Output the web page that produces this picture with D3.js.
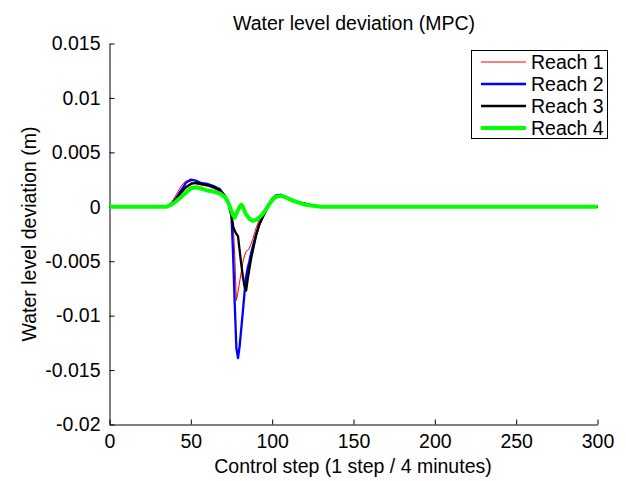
<!DOCTYPE html>
<html><head><meta charset="utf-8">
<script src="https://cdn.jsdelivr.net/npm/d3@7"></script>
<style>body{margin:0;background:#fff}svg{display:block}text{font-family:"Liberation Sans",Arial,sans-serif}</style>
</head><body>
<svg id="c" width="626" height="481"></svg>
<script>
const steps = [0,35,38,41,44,47,50,53,56,60,64,68,71,73,74,75,76,77,78,79,80,81,82,83,84,85,86,87,88,90,92,94,96,98,100,102,105,108,112,116,120,125,130,135,300];
const reach1 = [0,0,0.0004,0.0011,0.0019,0.0024,0.0023,0.0021,0.0020,0.0019,0.0017,0.0014,0.0009,0.0004,-0.0002,-0.0010,-0.0014,-0.0045,-0.0086,-0.0078,-0.0069,-0.0060,-0.0051,-0.0045,-0.0041,-0.0040,-0.0038,-0.0034,-0.0030,-0.0020,-0.0012,-0.0007,-0.0002,0.0003,0.0007,0.0010,0.0011,0.0009,0.0006,0.0004,0.0003,0.0001,0,0,0];
const reach2 = [0,0,0.0002,0.0008,0.0015,0.0022,0.0025,0.0024,0.0022,0.0021,0.0019,0.0016,0.0010,0.0004,-0.0002,-0.0008,-0.0045,-0.0090,-0.0130,-0.0139,-0.0128,-0.0112,-0.0096,-0.0079,-0.0064,-0.0056,-0.0050,-0.0043,-0.0037,-0.0026,-0.0016,-0.0010,-0.0004,0.0002,0.0007,0.0010,0.0011,0.0009,0.0006,0.0004,0.0003,0.0001,0,0,0];
const reach3 = [0,0,0.0002,0.0007,0.0013,0.0018,0.0021,0.0022,0.0021,0.0020,0.0018,0.0015,0.0010,0.0004,-0.0002,-0.0008,-0.0018,-0.0022,-0.0025,-0.0027,-0.0040,-0.0053,-0.0064,-0.0073,-0.0077,-0.0066,-0.0057,-0.0048,-0.0041,-0.0027,-0.0017,-0.0010,-0.0004,0.0002,0.0007,0.0010,0.0011,0.0009,0.0006,0.0004,0.0003,0.0001,0,0,0];
const reach4 = [0,0,0.0002,0.0005,0.0009,0.0013,0.0017,0.0018,0.0017,0.0015,0.0014,0.0012,0.0009,0.0004,0.0000,-0.0004,-0.0008,-0.0010,-0.0006,-0.0003,0.0000,0.0002,0.0000,-0.0004,-0.0007,-0.0009,-0.0011,-0.0012,-0.0013,-0.0012,-0.0010,-0.0007,-0.0003,0.0002,0.0006,0.0009,0.0010,0.0009,0.0006,0.0004,0.0002,0.0001,0,0,0];
const seriesNames = ["Reach 1","Reach 2","Reach 3","Reach 4"];
const seriesColors = ["#ff0000","#0000ff","#000000","#00ff00"];
const seriesWidths = [1,2.3,2.3,4];
const seriesValues = [reach1,reach2,reach3,reach4];
const xTicks = [0,50,100,150,200,250,300];
const yTicks = [-0.02,-0.015,-0.01,-0.005,0,0.005,0.01,0.015];

const svg = d3.select("#c");
const L=109.5, R=597.5, T=43.5, B=424.5;
const FS = 19.5;
const x = d3.scaleLinear().domain([0,300]).range([L,R]);
const y = d3.scaleLinear().domain([-0.02,0.015]).range([B,T]);

const fmt = v => v===0 ? "0" : (v<0?"-":"") + String(Math.abs(+v.toFixed(3)));

const gx = svg.append("g").attr("transform",`translate(0,${B})`)
  .call(d3.axisBottom(x).tickValues(xTicks).tickSizeInner(-5).tickSizeOuter(0).tickPadding(8).tickFormat(d3.format("d")));
const gy = svg.append("g").attr("transform",`translate(${L},0)`)
  .call(d3.axisLeft(y).tickValues(yTicks).tickSizeInner(-5).tickSizeOuter(0).tickPadding(9).tickFormat(fmt));
[gx,gy].forEach(g=>{
  g.selectAll("text").attr("font-size",FS).attr("fill","#000").attr("font-family","Liberation Sans, Arial, sans-serif");
  g.selectAll("line").attr("stroke","#000");
  g.select(".domain").attr("stroke","#000").attr("stroke-width",1);
});
gx.selectAll("text").attr("y",23).attr("dy","0");

const line = d3.line().x((d,i)=>x(steps[i])).y(d=>y(d));
seriesValues.forEach((vals,k)=>{
  svg.append("path").datum(vals).attr("d",line).attr("fill","none")
    .attr("stroke",seriesColors[k]).attr("stroke-width",seriesWidths[k]).attr("stroke-linejoin","round");
});

svg.append("text").attr("x",354).attr("y",30).attr("text-anchor","middle").attr("font-size",FS).text("Water level deviation (MPC)");
svg.append("text").attr("x",353).attr("y",473).attr("text-anchor","middle").attr("font-size",FS).text("Control step (1 step / 4 minutes)");
svg.append("text").attr("transform","translate(36,234) rotate(-90)").attr("text-anchor","middle").attr("font-size",FS).text("Water level deviation (m)");

const lg = svg.append("g");
lg.append("rect").attr("x",471.5).attr("y",50.5).attr("width",136).attr("height",88).attr("fill","#fff").attr("stroke","#000");
seriesNames.forEach((n,k)=>{
  const yy = 62 + k*22;
  lg.append("line").attr("x1",481).attr("x2",526).attr("y1",yy).attr("y2",yy).attr("stroke",seriesColors[k]).attr("stroke-width",seriesWidths[k]);
  lg.append("text").attr("x",531).attr("y",yy+7).attr("font-size",FS).text(n);
});
</script>
</body></html>
